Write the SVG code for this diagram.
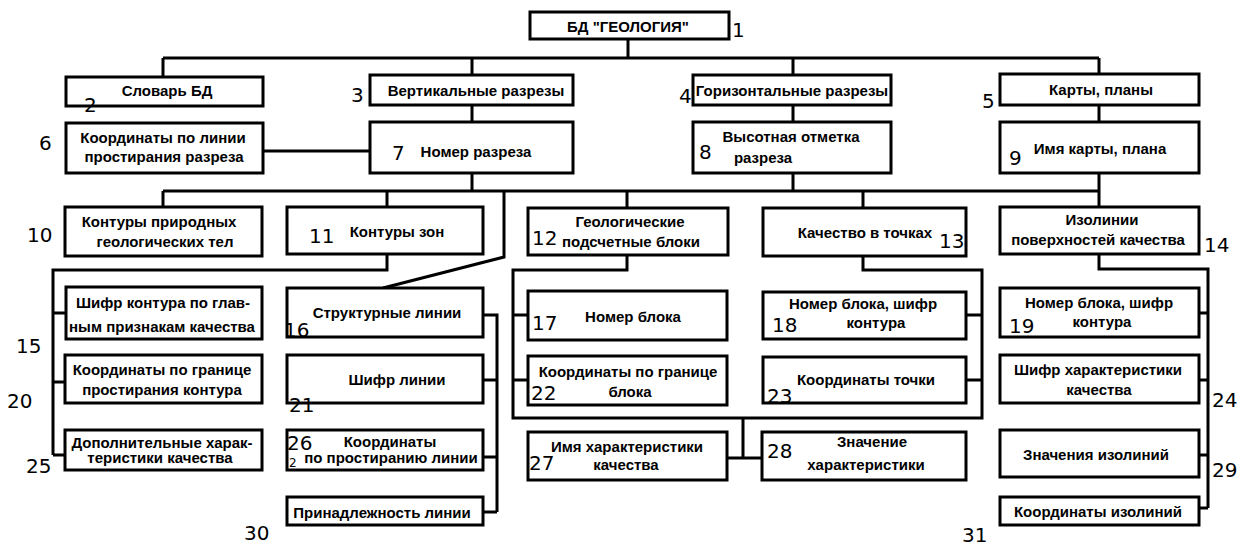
<svg xmlns="http://www.w3.org/2000/svg" width="1241" height="546" viewBox="0 0 1241 546">
<style>
rect{fill:#fff;stroke:#000;stroke-width:3}
.t{font-family:"Liberation Sans",Arial,sans-serif;font-weight:bold;font-size:15px;text-anchor:middle;fill:#000}
.n{font-family:"DejaVu Sans",sans-serif;font-size:20px;fill:#000}
#connectors path{fill:none;stroke:#000;stroke-width:3}
</style>
<rect x="0" y="0" width="1241" height="546" style="fill:#fff;stroke:none"/>
<g id="connectors">
<path d="M628,39V58M163,58H1099M163,58V77M472,58V75M793,58V75M1099,58V74"/>
<path d="M472,105V122M793,105V122M1099,105V122M263,151H370"/>
<path d="M472,173V191M793,173V191M1099,173V191M163,191H1099M163,191V207M387,191V207M627,191V208M863,191V208M1099,191V207"/>
<path d="M504,191V257L383,288"/>
<path d="M387,254V270H53V455M53,313H66M53,382H65M53,455H65"/>
<path d="M483,315H497V512M483,380H497M483,457H497M483,512H497"/>
<path d="M627,255V270H513V418H982V270H863V256M513,315H528M513,380H528M966,315H982M966,380H982"/>
<path d="M743,418V458M727,458H762"/>
<path d="M1099,254V269H1208V508M1199,313H1208M1199,380H1208M1199,455H1208M1199,508H1208"/>
</g>
<g id="n1"><rect x="530" y="12" width="199" height="27"/><text class="t" x="628" y="32">БД "ГЕОЛОГИЯ"</text><text class="n" x="732" y="37">1</text></g>
<g id="n2"><rect x="66" y="77" width="197" height="29"/><text class="t" x="167" y="96">Словарь БД</text><text class="n" x="84" y="112">2</text></g>
<g id="n3"><rect x="370" y="75" width="203" height="30"/><text class="t" x="476" y="96">Вертикальные разрезы</text><text class="n" x="351" y="102">3</text></g>
<g id="n4"><rect x="693" y="75" width="198" height="30"/><text class="t" x="792" y="96">Горизонтальные разрезы</text><text class="n" x="679" y="103">4</text></g>
<g id="n5"><rect x="1000" y="74" width="199" height="31"/><text class="t" x="1101" y="95">Карты, планы</text><text class="n" x="982" y="108">5</text></g>
<g id="n6"><rect x="66" y="123" width="197" height="50"/><text class="t" x="163" y="143">Координаты по линии</text><text class="t" x="164" y="162">простирания разреза</text><text class="n" x="39" y="150">6</text></g>
<g id="n7"><rect x="370" y="122" width="203" height="51"/><text class="t" x="476" y="157">Номер разреза</text><text class="n" x="392" y="160">7</text></g>
<g id="n8"><rect x="693" y="122" width="198" height="51"/><text class="t" x="791" y="142">Высотная отметка</text><text class="t" x="763" y="163">разреза</text><text class="n" x="699" y="159">8</text></g>
<g id="n9"><rect x="1000" y="122" width="199" height="51"/><text class="t" x="1100" y="154">Имя карты, плана</text><text class="n" x="1009" y="165">9</text></g>
<g id="n10"><rect x="65" y="207" width="197" height="49"/><text class="t" x="159" y="227">Контуры природных</text><text class="t" x="165" y="247">геологических тел</text><text class="n" x="27" y="242">10</text></g>
<g id="n11"><rect x="287" y="207" width="196" height="47"/><text class="t" x="397" y="237">Контуры зон</text><text class="n" x="309" y="243">11</text></g>
<g id="n12"><rect x="528" y="208" width="200" height="47"/><text class="t" x="630" y="227">Геологические</text><text class="t" x="631" y="247">подсчетные блоки</text><text class="n" x="532" y="245">12</text></g>
<g id="n13"><rect x="763" y="208" width="203" height="48"/><text class="t" x="865" y="238">Качество в точках</text><text class="n" x="939" y="248">13</text></g>
<g id="n14"><rect x="1000" y="207" width="199" height="47"/><text class="t" x="1102" y="225">Изолинии</text><text class="t" x="1098" y="245">поверхностей качества</text><text class="n" x="1204" y="252">14</text></g>
<g id="n15"><rect x="66" y="287" width="196" height="52"/><text class="t" x="163" y="308">Шифр контура по глав-</text><text class="t" x="162" y="332">ным признакам качества</text><text class="n" x="16" y="353">15</text></g>
<g id="n16"><rect x="287" y="288" width="196" height="49"/><text class="t" x="387" y="318">Структурные линии</text><text class="n" x="284" y="337">16</text></g>
<g id="n17"><rect x="528" y="291" width="199" height="49"/><text class="t" x="633" y="322">Номер блока</text><text class="n" x="532" y="330">17</text></g>
<g id="n18"><rect x="763" y="292" width="203" height="47"/><text class="t" x="863" y="309">Номер блока, шифр</text><text class="t" x="876" y="328">контура</text><text class="n" x="772" y="332">18</text></g>
<g id="n19"><rect x="1000" y="288" width="199" height="49"/><text class="t" x="1099" y="308">Номер блока, шифр</text><text class="t" x="1102" y="327">контура</text><text class="n" x="1009" y="333">19</text></g>
<g id="n20"><rect x="65" y="355" width="197" height="48"/><text class="t" x="162" y="375">Координаты по границе</text><text class="t" x="162" y="395">простирания контура</text><text class="n" x="7" y="408">20</text></g>
<g id="n21"><rect x="287" y="355" width="196" height="48"/><text class="t" x="397" y="385">Шифр линии</text><text class="n" x="289" y="412">21</text></g>
<g id="n22"><rect x="528" y="356" width="199" height="49"/><text class="t" x="628" y="377">Координаты по границе</text><text class="t" x="630" y="397">блока</text><text class="n" x="531" y="400">22</text></g>
<g id="n23"><rect x="763" y="357" width="203" height="46"/><text class="t" x="866" y="385">Координаты точки</text><text class="n" x="767" y="403">23</text></g>
<g id="n24"><rect x="1000" y="355" width="199" height="48"/><text class="t" x="1098" y="375">Шифр характеристики</text><text class="t" x="1099" y="395">качества</text><text class="n" x="1212" y="407">24</text></g>
<g id="n25"><rect x="65" y="430" width="197" height="40"/><text class="t" x="162" y="448">Дополнительные харак-</text><text class="t" x="160" y="463">теристики качества</text><text class="n" x="26" y="473">25</text></g>
<g id="n26"><rect x="287" y="430" width="196" height="40"/><text class="t" x="390" y="447">Координаты</text><text class="t" x="391" y="463">по простиранию линии</text><text class="n" x="287" y="450">26</text><text class="n" x="289" y="467" style="font-size:12px">2</text></g>
<g id="n27"><rect x="528" y="432" width="199" height="48"/><text class="t" x="627" y="452">Имя характеристики</text><text class="t" x="626" y="470">качества</text><text class="n" x="529" y="470">27</text></g>
<g id="n28"><rect x="762" y="432" width="204" height="48"/><text class="t" x="872" y="447">Значение</text><text class="t" x="866" y="470">характеристики</text><text class="n" x="767" y="458">28</text></g>
<g id="n29"><rect x="1000" y="430" width="199" height="47"/><text class="t" x="1096" y="460">Значения изолиний</text><text class="n" x="1212" y="477">29</text></g>
<g id="n30"><rect x="287" y="497" width="196" height="28"/><text class="t" x="382" y="518">Принадлежность линии</text><text class="n" x="244" y="540">30</text></g>
<g id="n31"><rect x="1000" y="497" width="199" height="28"/><text class="t" x="1098" y="517">Координаты изолиний</text><text class="n" x="962" y="542">31</text></g>
</svg>
